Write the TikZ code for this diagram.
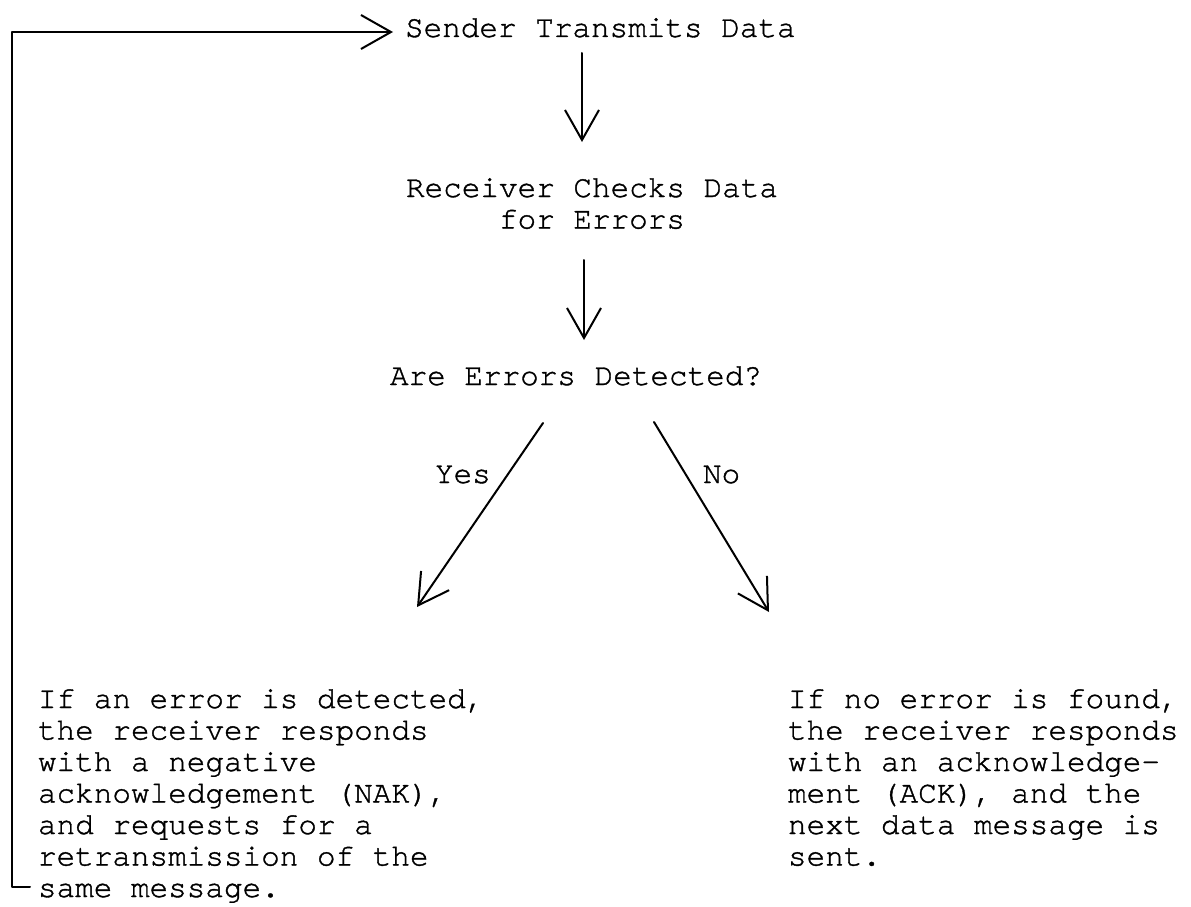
\documentclass[tikz,border=0pt]{standalone}
\usepackage{fontspec}
\newfontfamily\tw[FakeBold=1.2]{texgyrecursor-regular.otf}
\usetikzlibrary{arrows.meta}
\begin{document}
\begin{tikzpicture}[x=1pt,y=-1pt,
  txt/.style={inner sep=0pt,outer sep=0pt,font=\tw\fontsize{31}{31.5}\selectfont},
  conn/.style={line width=2pt,line cap=round,line join=round},
  arr/.style={conn,-{Straight Barb[length=30pt,width=34pt,line width=2pt]}}]
\path[use as bounding box] (0,0) rectangle (1191,907);
% nodes (multi-line nodes are placed by the baseline of their last line)
\node[txt,anchor=base west] (sender) at (405,37) {Sender Transmits Data};
\node[txt,anchor=base,align=center] (receiver) at (592,228.5) {Receiver Checks Data\\for Errors};
\node[txt,anchor=base west] (errors) at (390,385) {Are Errors Detected?};
\node[txt,anchor=base west] (yes) at (435,483) {Yes};
\node[txt,anchor=base west] (no) at (703,483) {No};
\node[txt,anchor=base west,align=left] (nak) at (38,897) {If an error is detected,\\the receiver responds\\with a negative\\acknowledgement (NAK),\\and requests for a\\retransmission of the\\same message.};
\node[txt,anchor=base west,align=left] (ack) at (788,865.5) {If no error is found,\\the receiver responds\\with an acknowledge-\\ment (ACK), and the\\next data message is\\sent.};
% connector end points
\coordinate (a1s) at (582,53);
\coordinate (a1e) at (582,142);
\coordinate (a2s) at (584,260);
\coordinate (a2e) at (584,340);
\coordinate (ys) at (543,423);
\coordinate (ye) at (417,607);
\coordinate (ns) at (654,422);
\coordinate (ne) at (769,612);
\coordinate (lb) at (30,887);
\coordinate (lc) at (12,887);
\coordinate (lt) at (12,32);
\coordinate (le) at (393,32);
% connectors
\draw[arr] (a1s) -- (a1e);
\draw[arr] (a2s) -- (a2e);
\draw[arr] (ys) -- (ye);
\draw[arr] (ns) -- (ne);
\draw[arr] (lb) -- (lc) -- (lt) -- (le);
\end{tikzpicture}
\end{document}
